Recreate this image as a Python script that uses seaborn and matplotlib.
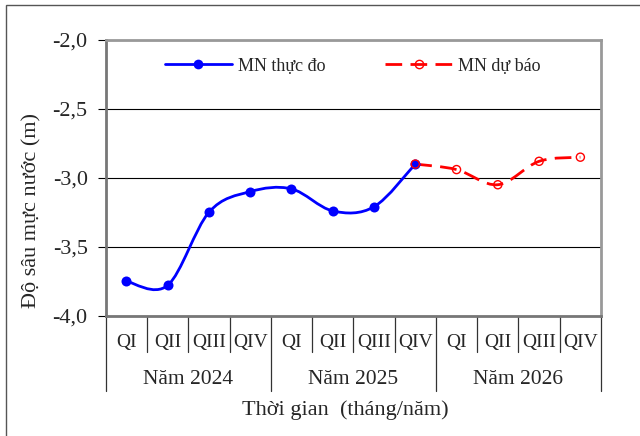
import numpy as np
import pandas as pd
import seaborn as sns
import matplotlib.pyplot as plt
from matplotlib.path import Path
from matplotlib.patches import PathPatch, Rectangle
from matplotlib.lines import Line2D
from matplotlib.ticker import FuncFormatter

# ---- data ----
quarters = ["QI", "QII", "QIII", "QIV", "QI", "QII", "QIII", "QIV", "QI", "QII", "QIII", "QIV"]
years = ["Năm 2024", "Năm 2025", "Năm 2026"]
measured = [-3.75, -3.78, -3.25, -3.10, -3.08, -3.24, -3.21, -2.90]      # 2024 QI .. 2025 QIV
forecast = [-2.90, -2.94, -3.05, -2.88, -2.85]                           # 2025 QIV .. 2026 QIV
y_ticks = [-4.0, -3.5, -3.0, -2.5, -2.0]
label_measured = "MN thực đo"
label_forecast = "MN dự báo"

sns.set_style("white")
plt.rcParams["font.family"] = ["Liberation Serif", "DejaVu Serif"]

W, H = 640, 436
fig = plt.figure(figsize=(W / 100, H / 100), dpi=100)
ax = fig.add_axes([105.7 / W, 1 - 315.7 / H, 495.3 / W, 275.7 / H])

pos_m = np.arange(len(measured))
pos_f = np.arange(len(measured) - 1, len(measured) - 1 + len(forecast))
df_m = pd.DataFrame({"pos": pos_m, "value": measured})
df_f = pd.DataFrame({"pos": pos_f, "value": forecast})


def smooth_path(xs, ys):
    pts = np.column_stack([xs, ys]).astype(float)
    n = len(pts)
    verts = [pts[0]]
    codes = [Path.MOVETO]
    for i in range(n - 1):
        p0 = pts[i - 1] if i > 0 else pts[i]
        p1 = pts[i]
        p2 = pts[i + 1]
        p3 = pts[i + 2] if i + 2 < n else pts[i + 1]
        c1 = p1 + (p2 - p0) / 6.0
        c2 = p2 - (p3 - p1) / 6.0
        verts += [c1, c2, p2]
        codes += [Path.CURVE4] * 3
    return Path(verts, codes)


BLUE = "#0000ff"
RED = "#ff0000"

ax.add_patch(PathPatch(smooth_path(df_m["pos"], df_m["value"]), fill=False,
                       edgecolor=BLUE, lw=2.0, zorder=3, capstyle="round"))
ax.add_patch(PathPatch(smooth_path(df_f["pos"], df_f["value"]), fill=False,
                       edgecolor=RED, lw=2.0, zorder=3, linestyle=(0, (6, 3))))

sns.scatterplot(data=df_m, x="pos", y="value", color=BLUE, s=52, linewidth=0,
                zorder=4, ax=ax, legend=False)
sc = sns.scatterplot(data=df_f, x="pos", y="value", s=34, zorder=5, ax=ax, legend=False)
sc.collections[-1].set_facecolor("none")
sc.collections[-1].set_edgecolor(RED)
sc.collections[-1].set_linewidth(1.0)

ax.set_xlim(-0.5, len(quarters) - 0.5)
ax.set_ylim(min(y_ticks), max(y_ticks))

# y axis
ax.set_yticks(y_ticks)
ax.yaxis.set_major_formatter(FuncFormatter(lambda v, _: f"{v:.1f}".replace(".", ",")))
ax.tick_params(axis="y", direction="out", length=6, width=0.8, color="black",
               pad=7, labelsize=16, left=True)
ax.yaxis.grid(True, color="black", lw=0.8)
ax.xaxis.grid(False)

# x axis (quarters)
ax.set_xticks(np.arange(len(quarters)))
ax.set_xticklabels(quarters)
ax.tick_params(axis="x", length=0, labelsize=14, pad=19.4)
for lbl in ax.get_xticklabels():
    lbl.set_va("center")

# spines
for side in ["top", "right"]:
    ax.spines[side].set_color("#999999")
    ax.spines[side].set_linewidth(2.0)
for side in ["left", "bottom"]:
    ax.spines[side].set_color("#777777")
    ax.spines[side].set_linewidth(2.0)

# category separators
trans = ax.get_xaxis_transform()
for i, b in enumerate(np.arange(-0.5, len(quarters), 1.0)):
    bottom = -0.272 if i % 4 == 0 else -0.1306
    ax.plot([b, b], [0, bottom], transform=trans, color="#333333", lw=0.9,
            clip_on=False, zorder=1)

# year labels
for i, yr in enumerate(years):
    ax.text(4 * i + 1.5, -0.2296, yr, transform=trans, ha="center", va="center",
            fontsize=15.5)

ax.set_xlabel("Thời gian  (tháng/năm)", fontsize=16)
ax.xaxis.set_label_coords(0.483, -0.342)
ax.xaxis.label.set_va("center")

ax.set_ylabel("Độ sâu mực nước (m)", fontsize=16)
ax.yaxis.set_label_coords((32 - 105.7) / 495.3, 0.38)
ax.yaxis.label.set_va("center")

# legend
handles = [
    Line2D([], [], color=BLUE, lw=2.0, marker="o", markersize=7, markeredgewidth=0),
    Line2D([], [], color=RED, lw=2.0, linestyle=(0, (6, 3)), marker="o", markersize=6,
           markerfacecolor="none", markeredgecolor=RED, markeredgewidth=1.0),
]
ax.legend(handles, [label_measured, label_forecast], loc="center left",
          bbox_to_anchor=((165 - 105.7) / 495.3, (315.7 - 66) / 275.7),
          ncol=2, frameon=False, fontsize=13, handlelength=3.7, handletextpad=0.35,
          columnspacing=3.3, borderpad=0, borderaxespad=0)

# figure border
fig.patches.append(Rectangle((6 / W, -0.05), 1.0, 1 - 5.5 / H + 0.05,
                             transform=fig.transFigure, fill=False,
                             edgecolor="#555555", lw=1.0))

fig.savefig("out.png", dpi=100)
